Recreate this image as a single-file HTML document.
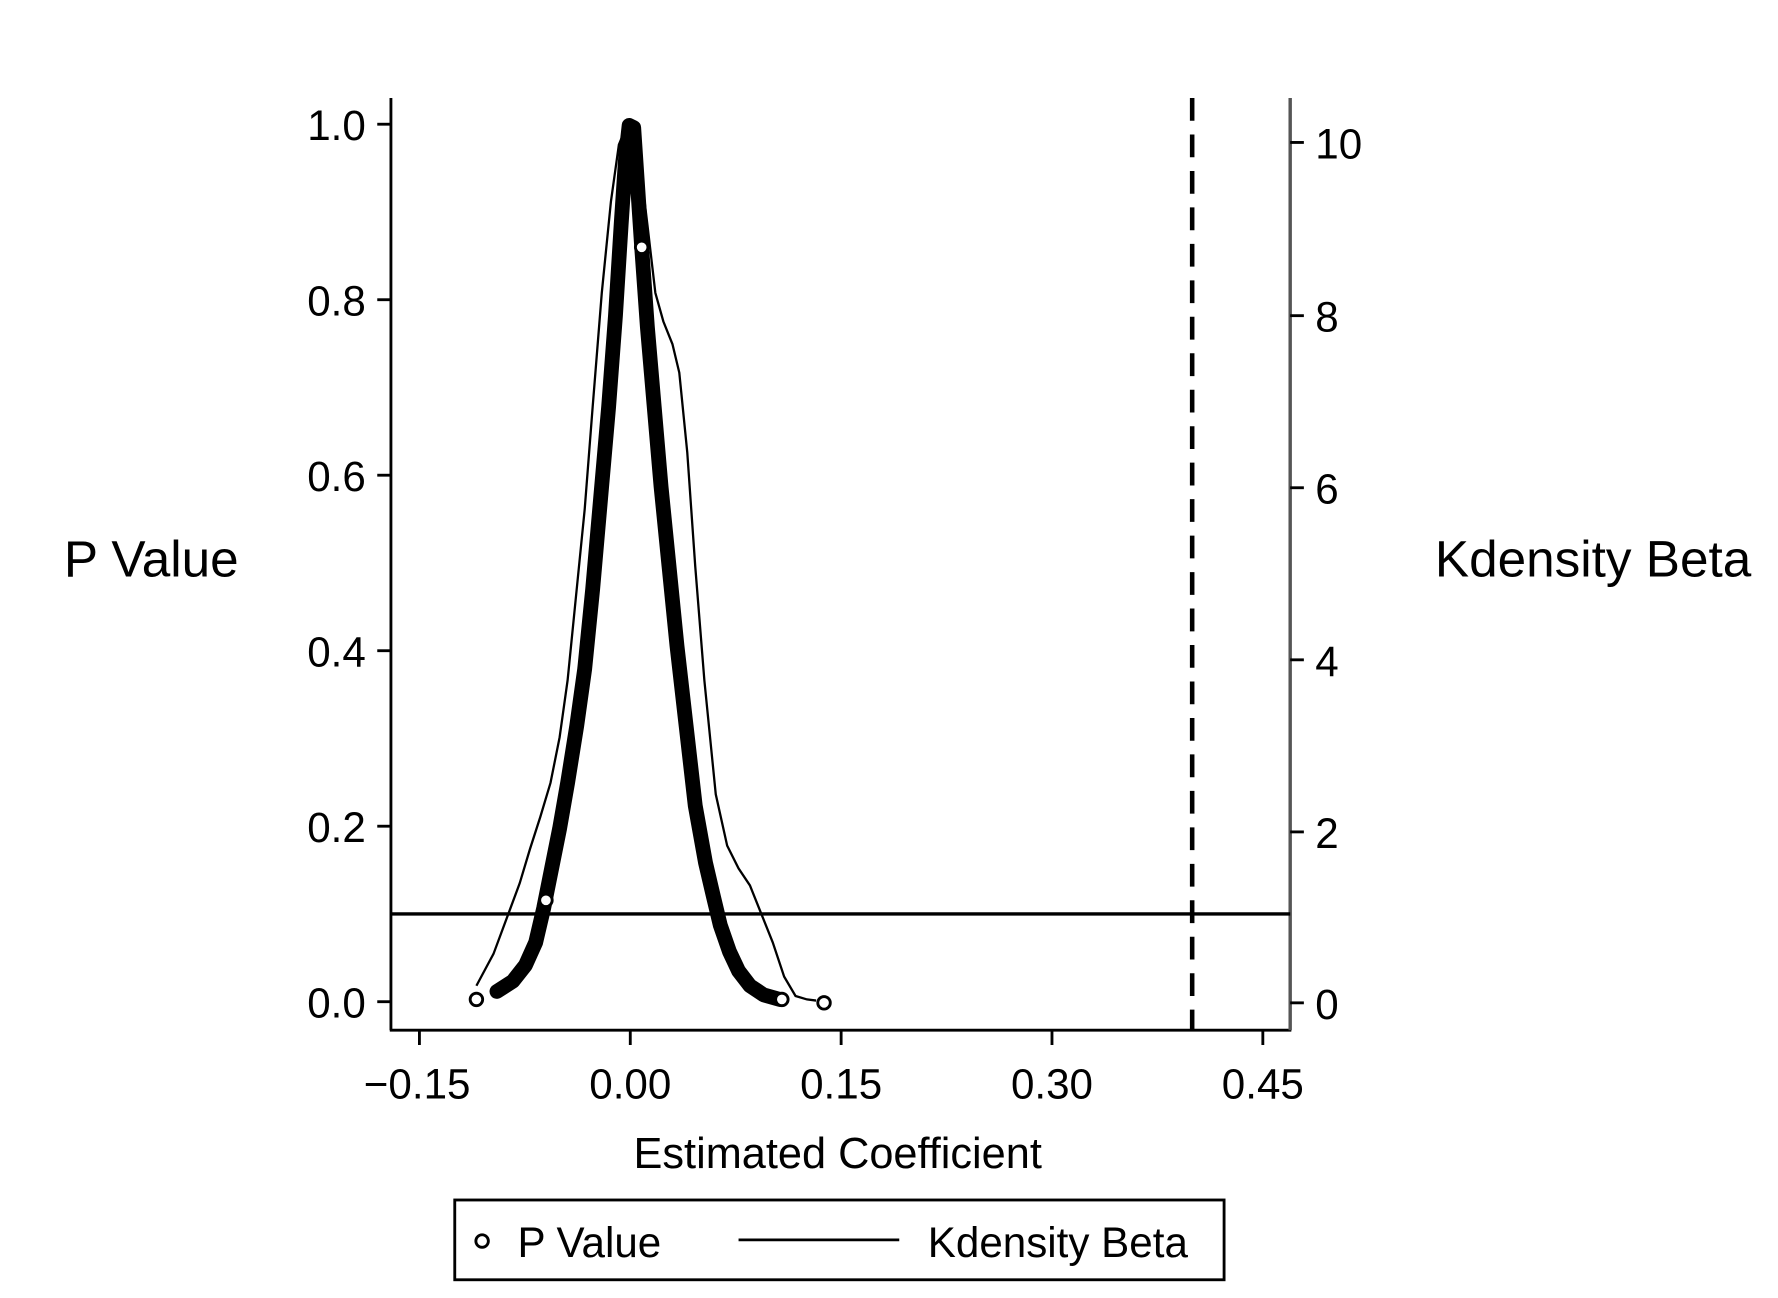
<!DOCTYPE html>
<html><head><meta charset="utf-8"><style>
html,body{margin:0;padding:0;background:#fff;}
svg{display:block;}
text{font-family:"Liberation Sans",Arial,sans-serif;fill:#000;}
</style></head><body>
<svg width="1778" height="1298" viewBox="0 0 1560 1139" preserveAspectRatio="none" xmlns="http://www.w3.org/2000/svg">
<rect width="1560" height="1139" fill="#fff"/>
<g transform="translate(-2,-3)">
<line x1="345" y1="89" x2="345" y2="907" stroke="#000" stroke-width="2.5"/>
<line x1="344" y1="907" x2="1135" y2="907" stroke="#000" stroke-width="2.5"/>
<line x1="1134" y1="89" x2="1134" y2="907" stroke="#555" stroke-width="3"/>
<g stroke="#000" stroke-width="2.5">
<line x1="333" y1="112" x2="345" y2="112"/>
<line x1="333" y1="266" x2="345" y2="266"/>
<line x1="333" y1="420" x2="345" y2="420"/>
<line x1="333" y1="574" x2="345" y2="574"/>
<line x1="333" y1="728" x2="345" y2="728"/>
<line x1="333" y1="882" x2="345" y2="882"/>
<line x1="1134" y1="128" x2="1146" y2="128"/>
<line x1="1134" y1="280" x2="1146" y2="280"/>
<line x1="1134" y1="431" x2="1146" y2="431"/>
<line x1="1134" y1="582" x2="1146" y2="582"/>
<line x1="1134" y1="733" x2="1146" y2="733"/>
<line x1="1134" y1="883" x2="1146" y2="883"/>
<line x1="370" y1="907" x2="370" y2="920"/>
<line x1="555" y1="907" x2="555" y2="920"/>
<line x1="740" y1="907" x2="740" y2="920"/>
<line x1="925" y1="907" x2="925" y2="920"/>
<line x1="1110" y1="907" x2="1110" y2="920"/>
</g>
<g font-size="37" text-anchor="end">
<text x="323" y="126">1.0</text>
<text x="323" y="280">0.8</text>
<text x="323" y="434">0.6</text>
<text x="323" y="588">0.4</text>
<text x="323" y="742">0.2</text>
<text x="323" y="896">0.0</text>
</g>
<g font-size="37">
<text x="1156" y="142">10</text>
<text x="1156" y="294">8</text>
<text x="1156" y="445">6</text>
<text x="1156" y="596">4</text>
<text x="1156" y="747">2</text>
<text x="1156" y="897">0</text>
</g>
<g font-size="37" text-anchor="middle">
<text x="368" y="967">−0.15</text>
<text x="555" y="967">0.00</text>
<text x="740" y="967">0.15</text>
<text x="925" y="967">0.30</text>
<text x="1110" y="967">0.45</text>
</g>
<text x="737" y="1028" font-size="38" text-anchor="middle">Estimated Coefficient</text>
<text x="58" y="509" font-size="45">P Value</text>
<text x="1261" y="509" font-size="45">Kdensity Beta</text>
<line x1="345" y1="805" x2="1134" y2="805" stroke="#000" stroke-width="3"/>
<line x1="1048" y1="89" x2="1048" y2="907" stroke="#000" stroke-width="4" stroke-dasharray="20,12"/>
<polyline fill="none" stroke="#000" stroke-width="2" points="420,868 435,840 448,805 458,778 467,748 476,720 485,690 493,650 500,600 507,530 515,450 522,360 530,260 538,180 545,130 552,113 558,114 564,150 570,200 577,260 584,285 592,305 598,330 605,400 612,500 620,600 630,700 640,745 650,765 660,780 670,805 680,830 690,860 700,877 710,880 718,881"/>
<polyline fill="none" stroke="#000" stroke-width="13" stroke-linejoin="round" stroke-linecap="round" points="438,873 452,864 463,850 472,830 479,800 486,765 493,730 500,690 508,640 515,590 522,520 529,440 536,360 542,280 547,200 551,140 554,113 558,115 561,160 565,220 570,290 576,360 582,430 589,500 596,570 604,640 612,710 621,760 628,790 634,815 642,838 650,855 660,868 672,876 686,880"/>
<g fill="#fff" stroke="#000" stroke-width="2.5">
<circle cx="420" cy="880" r="5.5"/>
<circle cx="725" cy="883" r="5.5"/>
<circle cx="481" cy="793" r="5.5"/>
<circle cx="565" cy="220" r="5.5"/>
<circle cx="688" cy="880" r="5.5"/>
</g>
<rect x="401" y="1056" width="675" height="70" fill="#fff" stroke="#000" stroke-width="2.5"/>
<circle cx="425" cy="1092" r="5.5" fill="#fff" stroke="#000" stroke-width="2.5"/>
<text x="456" y="1106" font-size="37">P Value</text>
<line x1="650" y1="1091" x2="791" y2="1091" stroke="#000" stroke-width="2.5"/>
<text x="816" y="1106" font-size="37">Kdensity Beta</text>
</g>
</svg>
</body></html>
